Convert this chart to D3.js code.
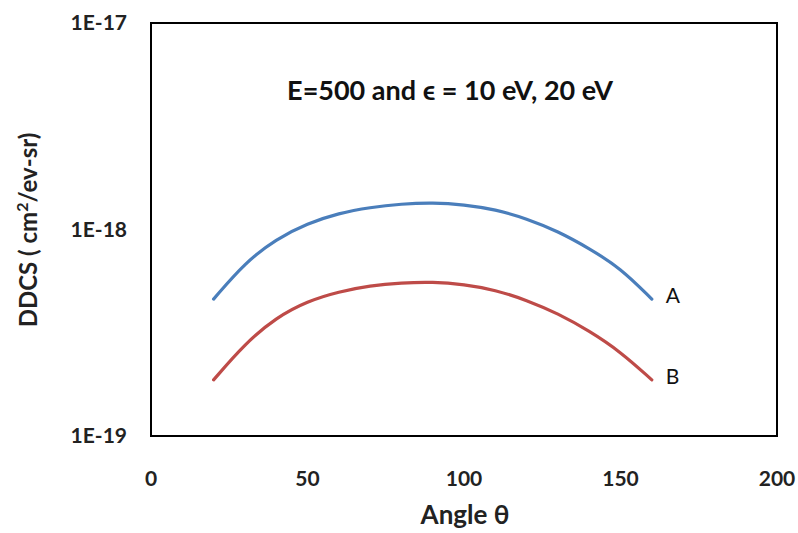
<!DOCTYPE html>
<html>
<head>
<meta charset="utf-8">
<script src="https://cdn.jsdelivr.net/npm/d3@7"></script>
<style>
  body { margin: 0; background: #fff; }
  text { font-family: Lato, "Open Sans", sans-serif; }
</style>
</head>
<body>
<svg id="chart" width="798" height="533"></svg>
<script>
// DDCS vs angle, two ejected-electron energies
const angles = [20, 30, 40, 50, 60, 70, 80, 90, 100, 110, 120, 130, 140, 150, 160];
const seriesA = [4.6e-19, 6.9e-19, 9.0e-19, 1.07e-18, 1.2e-18, 1.28e-18, 1.33e-18, 1.35e-18,
                 1.32e-18, 1.25e-18, 1.13e-18, 9.8e-19, 8.1e-19, 6.5e-19, 4.6e-19];
const seriesB = [1.87e-19, 2.8e-19, 3.75e-19, 4.5e-19, 5.0e-19, 5.35e-19, 5.52e-19, 5.58e-19,
                 5.42e-19, 5.1e-19, 4.55e-19, 3.92e-19, 3.23e-19, 2.56e-19, 1.87e-19];
const seriesNames = ['A', 'B'];
const xTicks = [0, 50, 100, 150, 200];
const yTicks = [1e-19, 1e-18, 1e-17];
const yTickLabels = ['1E-19', '1E-18', '1E-17'];

const svg = d3.select('#chart');
const plot = { left: 151, right: 777, top: 23, bottom: 436 };

const x = d3.scaleLinear().domain([0, 200]).range([plot.left, plot.right]);
const y = d3.scaleLog().domain([1e-19, 1e-17]).range([plot.bottom, plot.top]);

const colors = ['#4a7ebb', '#be4b48'];

// frame
svg.append('rect')
    .attr('x', plot.left)
    .attr('y', plot.top)
    .attr('width', plot.right - plot.left)
    .attr('height', plot.bottom - plot.top)
    .attr('fill', 'none')
    .attr('stroke', '#000')
    .attr('stroke-width', 2);

// x tick labels
svg.selectAll('.xt').data(xTicks).enter().append('text')
    .attr('x', d => x(d))
    .attr('y', 486)
    .attr('text-anchor', 'middle')
    .attr('font-size', 21)
    .attr('font-weight', 'bold')
    .attr('fill', '#222')
    .text(d => d);

// y tick labels
svg.selectAll('.yt').data(yTicks).enter().append('text')
    .attr('x', 127)
    .attr('y', d => y(d) + 7)
    .attr('text-anchor', 'end')
    .attr('font-size', 21)
    .attr('font-weight', 'bold')
    .attr('fill', '#222')
    .text((d, i) => yTickLabels[i]);

// axis titles
svg.append('text')
    .attr('x', 465)
    .attr('y', 524)
    .attr('text-anchor', 'middle')
    .attr('font-size', 26)
    .attr('font-weight', 'bold')
    .attr('fill', '#222')
    .text('Angle θ');

const yl = svg.append('text')
    .attr('transform', 'translate(37,230) rotate(-90)')
    .attr('text-anchor', 'middle')
    .attr('font-size', 24)
    .attr('font-weight', 'bold')
    .attr('fill', '#222');
yl.append('tspan').text('DDCS ( cm');
yl.append('tspan').attr('dy', -9).attr('font-size', 16).text('2');
yl.append('tspan').attr('dy', 9).text('/ev-sr)');

// annotation
svg.append('text')
    .attr('x', 450)
    .attr('y', 100)
    .attr('text-anchor', 'middle')
    .attr('font-size', 27)
    .attr('font-weight', 'bold')
    .attr('fill', '#111')
    .text('E=500 and ϵ = 10 eV, 20 eV');

// lines (smoothed like Excel's smooth line)
const line = d3.line()
    .x(d => x(d[0]))
    .y(d => y(d[1]))
    .curve(d3.curveBasis);

[seriesA, seriesB].forEach((s, i) => {
    const pts = angles.map((a, j) => [a, s[j]]);
    svg.append('path')
        .attr('d', line(pts))
        .attr('fill', 'none')
        .attr('stroke', colors[i])
        .attr('stroke-width', 3.2)
        .attr('stroke-linecap', 'round');
    svg.append('text')
        .attr('x', x(angles[angles.length - 1]) + 14)
        .attr('y', y(s[s.length - 1]) + 4)
        .attr('font-size', 21)
        .attr('fill', '#111')
        .text(seriesNames[i]);
});
</script>
</body>
</html>
